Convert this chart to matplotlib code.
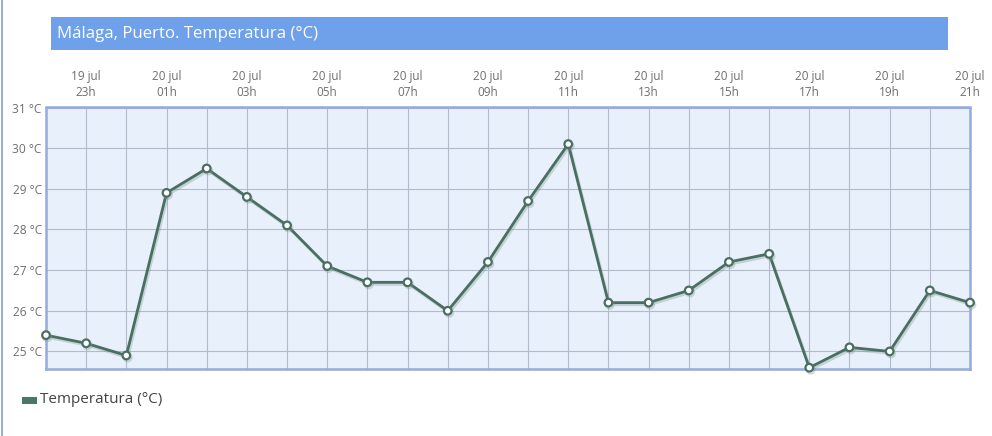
import matplotlib
matplotlib.use('Agg')
import matplotlib.pyplot as plt
import matplotlib.patheffects as pe
from matplotlib.patches import Rectangle
from matplotlib.lines import Line2D

plt.rcParams['font.family'] = ['Open Sans', 'DejaVu Sans']

# horas (19 jul 22h -> 20 jul 21h)
dias = ['19 jul', '19 jul'] + ['20 jul'] * 22
horas = ['22h', '23h', '00h', '01h', '02h', '03h', '04h', '05h', '06h', '07h',
         '08h', '09h', '10h', '11h', '12h', '13h', '14h', '15h', '16h', '17h',
         '18h', '19h', '20h', '21h']
temperatura = [25.4, 25.2, 24.9, 28.9, 29.5, 28.8, 28.1, 27.1, 26.7, 26.7,
               26.0, 27.2, 28.7, 30.1, 26.2, 26.2, 26.5, 27.2, 27.4, 24.6,
               25.1, 25.0, 26.5, 26.2]
y_ticks = [25, 26, 27, 28, 29, 30, 31]

color_linea = '#4b6e62'
color_texto = '#6e6e6e'

fig = plt.figure(figsize=(9.92, 4.36), dpi=100)
W, H = 992, 436

def fx(px):
    return px / W

def fy(py):
    return 1 - py / H

ax = fig.add_axes([fx(46), fy(368.5), fx(970) - fx(46), (368.5 - 107.5) / H])
ax.set_facecolor('#e8f0fb')

x = list(range(len(temperatura)))
ax.plot(x, temperatura, color=color_linea, lw=2, marker='o', ms=5.5,
        mfc='white', mec=color_linea, mew=1.6, zorder=5, clip_on=False,
        path_effects=[pe.SimpleLineShadow(offset=(1, -1.5), shadow_color='#7f9a90', alpha=0.35),
                      pe.Normal()])

ax.set_xlim(0, len(temperatura) - 1)
ax.set_ylim(24.58, 31)

ax.set_xticks(x, minor=True)
ticks_x = [i for i in x if i % 2 == 1]
ax.set_xticks(ticks_x)
ax.set_xticklabels([dias[i] + '\n' + horas[i] for i in ticks_x],
                   color=color_texto, fontsize=8.5, linespacing=1.3)
ax.xaxis.tick_top()
ax.tick_params(axis='x', which='both', length=0, pad=6)

ax.set_yticks(y_ticks)
ax.set_yticklabels([f'{v} °C' for v in y_ticks], color=color_texto, fontsize=8.6)
ax.tick_params(axis='y', length=0, pad=3)

ax.grid(True, which='both', axis='x', color='#b3bac8', lw=0.8)
ax.grid(True, which='major', axis='y', color='#b3bac8', lw=0.8)
ax.set_axisbelow(True)

for s in ax.spines.values():
    s.set_color('#93acdc')
    s.set_linewidth(1.8)

# barra de titulo
fig.patches.append(Rectangle((fx(51), fy(50)), fx(948) - fx(51), (50 - 17) / H,
                             transform=fig.transFigure, facecolor='#6fa0ea',
                             edgecolor='none'))
fig.text(fx(57), fy(34), 'Málaga, Puerto. Temperatura (°C)', color='white',
         fontsize=12.1, va='center', ha='left')

# leyenda
fig.patches.append(Rectangle((fx(22), fy(403.5)), fx(15), 6.5 / H,
                             transform=fig.transFigure, facecolor='#467a66',
                             edgecolor='none'))
fig.text(fx(40), fy(399), 'Temperatura (°C)', color='#444444', fontsize=11,
         va='center', ha='left')

# borde izquierdo
fig.lines.append(Line2D([fx(1.5), fx(1.5)], [0, 1], transform=fig.transFigure,
                        color='#7f9fd6', lw=1.2))

fig.savefig('out.png', dpi=100)
